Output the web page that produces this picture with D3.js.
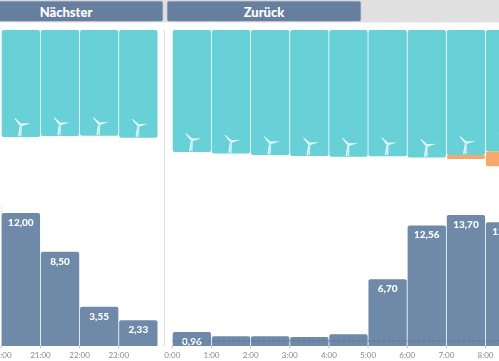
<!DOCTYPE html>
<html>
<head>
<meta charset="utf-8" />
<script src="https://cdn.jsdelivr.net/npm/d3@7"></script>
<style>
html, body { margin: 0; padding: 0; background: #fff; overflow: hidden; }
text { font-family: Lato, sans-serif; }
svg { filter: blur(0.3px); }
</style>
</head>
<body>
<script>
var nextHours = ["20:00", "21:00", "22:00", "23:00"];
var nextWind = [76.4, 75.8, 75.6, 76.9];
var nextValues = [12.00, 8.50, 3.55, 2.33];
var nextLabels = ["12,00", "8,50", "3,55", "2,33"];

var backHours = ["0:00", "1:00", "2:00", "3:00", "4:00", "5:00", "6:00", "7:00", "8:00"];
var backWind = [87.1, 88.3, 89.3, 90.0, 90.5, 90.1, 91.1, 89.2, 86.8];
var backSolar = [0, 0, 0, 0, 0, 0, 0, 3.0, 10.5];
var backValues = [0.96, 0.50, 0.50, 0.42, 0.72, 6.70, 12.56, 13.70, 12.90];
var backLabels = ["0,96", "", "", "", "", "6,70", "12,56", "13,70", "12,90"];

var tabs = ["Nächster", "Zurück"];

var width = 499, height = 361;
var slate = "#6f8aa9", teal = "#68d1d8", orange = "#f6a96b";

var svg = d3.select("body").append("svg")
	.attr("width", width)
	.attr("height", height)
	.style("display", "block");

// tab strip
svg.append("rect").attr("x", 0).attr("y", 0).attr("width", width).attr("height", 22.5).attr("fill", "#e0e0e0");

var tabX = d3.scaleOrdinal().domain(tabs).range([[-4, 163], [167, 361]]);
var tab = svg.selectAll(".tab").data(tabs).join("g").attr("class", "tab");
tab.append("rect")
	.attr("x", d => tabX(d)[0])
	.attr("y", 1)
	.attr("width", d => tabX(d)[1] - tabX(d)[0])
	.attr("height", 20.5)
	.attr("rx", 2)
	.attr("fill", "#667f9f")
	.attr("stroke", "#c6ccd3")
	.attr("stroke-width", 0.8);
tab.append("text")
	.attr("x", d => d == "Nächster" ? 66 : 264)
	.attr("y", 17)
	.attr("text-anchor", "middle")
	.attr("fill", "#fff")
	.attr("font-size", 13)
	.attr("font-weight", 900)
	.text(d => d);

// separators
svg.append("line").attr("x1", 164.5).attr("x2", 164.5).attr("y1", 30).attr("y2", 346)
	.attr("stroke", "#dcdcdc").attr("stroke-width", 1);
svg.append("line").attr("x1", 1.5).attr("x2", 1.5).attr("y1", 204).attr("y2", 346)
	.attr("stroke", "#e8e8e8").attr("stroke-width", 1);

var yTop = d3.scaleLinear().domain([0, 100]).range([30, 170]);
var baseline = 346;

function turbine(g) {
	var color = "#eefbfc";
	g.append("path").attr("d", "M-1.4,0.2L-6.4,-6.4L-5.6,-6.6L1,-0.8Z").attr("fill", color);
	g.append("path").attr("d", "M0,-1.4L9.6,-1.8L0.4,1.2Z").attr("fill", color);
	g.append("path").attr("d", "M-1,0L-2.8,11.2L-1.6,11.2L1,0Z").attr("fill", color);
	g.append("path").attr("d", "M-1,0L-0.8,11.2L0.8,11.2L1,0Z").attr("fill", "#c4eff1");
}

function panel(hours, wind, solar, values, labels, x0, y) {
	var x = d3.scaleBand().domain(hours).range([x0, x0 + 39.15 * hours.length]);
	var bw = x.bandwidth();
	var g = svg.append("g");

	// hanging wind bars, solar stacked under them
	g.selectAll(".wind").data(hours).join("rect").attr("class", "wind")
		.attr("x", d => x(d) + 0.4)
		.attr("y", yTop(0))
		.attr("width", bw - 0.8)
		.attr("height", (d, i) => yTop(wind[i]) - yTop(0))
		.attr("rx", 2)
		.attr("fill", teal);
	g.selectAll(".solar").data(hours.filter((d, i) => solar[i] > 0)).join("rect").attr("class", "solar")
		.attr("x", d => x(d) + 0.4)
		.attr("y", d => yTop(wind[hours.indexOf(d)]))
		.attr("width", bw - 0.8)
		.attr("height", d => yTop(solar[hours.indexOf(d)]) - yTop(0))
		.attr("rx", 2)
		.attr("fill", orange);
	g.selectAll(".turbine").data(hours).join("g").attr("class", "turbine")
		.attr("transform", (d, i) => "translate(" + (x(d) + bw / 2) + "," + (yTop(wind[i]) - 12) + ")")
		.each(function() { turbine(d3.select(this)); });

	// value bars
	g.selectAll(".value").data(hours).join("path").attr("class", "value")
		.attr("d", function(d, i) {
			var l = x(d) + 0.4, r = x(d) + bw - 0.4, t = y(values[i]), b = baseline, c = 2;
			return "M" + l + "," + b + "V" + (t + c) + "Q" + l + "," + t + " " + (l + c) + "," + t +
				"H" + (r - c) + "Q" + r + "," + t + " " + r + "," + (t + c) + "V" + b + "Z";
		})
		.attr("fill", slate);

	g.selectAll(".label").data(hours).join("text").attr("class", "label")
		.attr("x", d => x(d) + bw / 2)
		.attr("y", (d, i) => values[i] < 1 ? baseline - 1 : y(values[i]) + 13)
		.attr("text-anchor", "middle")
		.attr("fill", "#fff")
		.attr("font-size", 10)
		.attr("font-weight", 900)
		.text((d, i) => labels[i]);

	// hour ticks sit on the left bar edge
	var axis = d3.axisBottom(x).tickSize(2).tickPadding(4);
	var ax = g.append("g").attr("transform", "translate(0," + baseline + ")").call(axis);
	ax.select(".domain").remove();
	ax.selectAll(".tick").attr("transform", d => "translate(" + x(d) + ",0)");
	ax.selectAll(".tick line").attr("stroke", "#bbb");
	ax.selectAll(".tick text").attr("fill", "#8a8a8a").attr("font-size", 8).style("font-family", "Lato, sans-serif");
	return x;
}

var yNext = d3.scaleLinear().domain([0, 12]).range([baseline, 213]);
var yBack = d3.scaleLinear().domain([0, 13.7]).range([baseline - 5.1, 215]);

panel(nextHours, nextWind, [0, 0, 0, 0], nextValues, nextLabels, 1.3, yNext);
var xBack = panel(backHours, backWind, backSolar, backValues, backLabels, 172.3, yBack);

// dashed zero level of the right panel
svg.append("line")
	.attr("x1", xBack.range()[0])
	.attr("x2", width)
	.attr("y1", yBack(0))
	.attr("y2", yBack(0))
	.attr("stroke", "#56708f")
	.attr("stroke-width", 0.8)
	.attr("stroke-dasharray", "3,2");
</script>
</body>
</html>
